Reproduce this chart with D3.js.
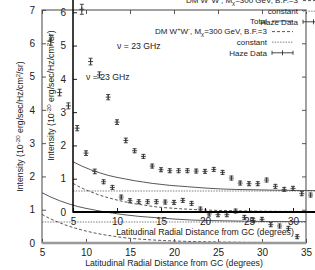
<!DOCTYPE html>
<html>
<head>
<meta charset="utf-8">
<script src="https://cdn.jsdelivr.net/npm/d3@7"></script>
<style>
  html, body { margin: 0; padding: 0; background: #fff; }
  svg { display: block; }
  text { font-family: "Liberation Sans", Arial, Helvetica, sans-serif; fill: #222; }
</style>
</head>
<body>
<svg id="chart" width="315" height="270"></svg>
<script>
// ---------------- data ----------------
const xTicks = [5, 10, 15, 20, 25, 30, 35];
const yTicks = [0, 1, 2, 3, 4, 5, 6, 7];

// Haze data (latitudinal radial distance, intensity, error)
const hazeDegrees = [6, 7, 8, 9, 10, 11, 12, 13, 14, 15, 16, 17, 18, 19, 20, 21, 22, 23, 24, 25, 26, 27, 28, 29, 30, 31, 32, 33, 34];
const hazeValues  = [6.09, 4.52, 4.12, 3.45, 2.70, 2.15, 1.84, 1.67, 1.38, 1.27, 1.24, 1.24, 1.24, 1.23, 1.22, 1.28, 1.19, 1.02, 0.87, 0.85, 0.85, 0.96, 0.77, 0.68, 0.71, 0.55, 0.51, 0.44, 0.19];
const hazeErrors  = [0.15, 0.10, 0.09, 0.08, 0.07, 0.07, 0.06, 0.06, 0.06, 0.06, 0.06, 0.06, 0.06, 0.06, 0.06, 0.06, 0.06, 0.06, 0.06, 0.06, 0.06, 0.06, 0.06, 0.06, 0.06, 0.06, 0.06, 0.06, 0.06];

// model curves
const curveDegrees = [5, 6, 7, 8, 9, 10, 11, 12, 13, 14, 15, 16, 17, 18, 20, 22, 25, 28, 31, 35];
const totalValues  = [1.51, 1.38, 1.27, 1.18, 1.10, 1.04, 0.99, 0.94, 0.90, 0.86, 0.83, 0.80, 0.78, 0.76, 0.72, 0.69, 0.67, 0.655, 0.645, 0.64];
const dmValues     = [0.86, 0.72, 0.61, 0.51, 0.43, 0.36, 0.30, 0.25, 0.21, 0.17, 0.14, 0.12, 0.10, 0.085, 0.06, 0.045, 0.03, 0.02, 0.015, 0.01];
const constantValue = [0.63];

const freqLabel = { x: 10, y: 5, text: "ν = 23 GHz" };

// ---------------- drawing ----------------
const svg = d3.select("#chart");
const W = 264, H = 233;
const x = d3.scaleLinear().domain([5, 35]).range([0, W]);
const y = d3.scaleLinear().domain([0, 7]).range([H, 0]);
const FS = 8.7;
const fmt = d3.format("d");

function drawPanel(ox, oy, frameColor, frameWidth, bottomColor, bottomWidth) {
  const g = svg.append("g").attr("transform", `translate(${ox},${oy})`);

  // curves
  const line = d3.line().x(d => x(d[0])).y(d => y(d[1])).curve(d3.curveMonotoneX);
  g.append("path")
    .datum(curveDegrees.map(d => [d, constantValue[0]]))
    .attr("d", line).attr("fill", "none")
    .attr("stroke", "#aaa").attr("stroke-width", 1.4).attr("stroke-dasharray", "1.5,1.2");
  g.append("path")
    .datum(curveDegrees.map((d, i) => [d, dmValues[i]]))
    .attr("d", line).attr("fill", "none")
    .attr("stroke", "#444").attr("stroke-width", 0.9).attr("stroke-dasharray", "3,2");
  g.append("path")
    .datum(curveDegrees.map((d, i) => [d, totalValues[i]]))
    .attr("d", line).attr("fill", "none")
    .attr("stroke", "#444").attr("stroke-width", 0.9);

  // haze data with error bars
  const pts = g.append("g").attr("stroke", "#333").attr("stroke-width", 0.9);
  hazeDegrees.forEach((d, i) => {
    const px = x(d), py = y(hazeValues[i]);
    const pt = y(hazeValues[i] + hazeErrors[i]), pb = y(hazeValues[i] - hazeErrors[i]);
    pts.append("line").attr("x1", px).attr("x2", px).attr("y1", pt).attr("y2", pb);
    pts.append("line").attr("x1", px - 2).attr("x2", px + 2).attr("y1", pt).attr("y2", pt);
    pts.append("line").attr("x1", px - 2).attr("x2", px + 2).attr("y1", pb).attr("y2", pb);
    pts.append("line").attr("x1", px - 2.5).attr("x2", px + 2.5).attr("y1", py).attr("y2", py);
    pts.append("line").attr("x1", px).attr("x2", px).attr("y1", py - 2.5).attr("y2", py + 2.5);
  });

  // axes (inward ticks, mirrored)
  const ax = g.append("g").attr("font-size", FS);
  const bottom = ax.append("g").attr("transform", `translate(0,${H})`)
    .call(d3.axisBottom(x).tickValues(xTicks).tickFormat(fmt).tickSizeInner(-4).tickSizeOuter(0).tickPadding(5.5));
  const left = ax.append("g")
    .call(d3.axisLeft(y).tickValues(yTicks).tickFormat(fmt).tickSizeInner(-4).tickSizeOuter(0).tickPadding(7));
  const top = ax.append("g")
    .call(d3.axisTop(x).tickValues(xTicks).tickSizeInner(-4).tickSizeOuter(0).tickFormat(""));
  const right = ax.append("g").attr("transform", `translate(${W},0)`)
    .call(d3.axisRight(y).tickValues(yTicks).tickSizeInner(-4).tickSizeOuter(0).tickFormat(""));
  [bottom, left, top, right].forEach(a => {
    a.select(".domain").remove();
    a.selectAll(".tick line").attr("stroke", frameColor).attr("stroke-width", 0.9);
    a.selectAll(".tick text").attr("fill", "#222").attr("font-family", "Liberation Sans, Arial, sans-serif");
  });

  // frame
  g.append("rect").attr("x", 0).attr("y", 0).attr("width", W).attr("height", H)
    .attr("fill", "none").attr("stroke", frameColor).attr("stroke-width", frameWidth);
  g.append("line").attr("x1", 0).attr("x2", W).attr("y1", H).attr("y2", H)
    .attr("stroke", bottomColor).attr("stroke-width", bottomWidth);

  // axis labels
  g.append("text").attr("x", W / 2).attr("y", H + 23).attr("text-anchor", "middle")
    .attr("font-size", FS).text("Latitudinal Radial Distance from GC (degrees)");
  const yl = g.append("text")
    .attr("transform", `translate(-19,${H / 2}) rotate(-90)`)
    .attr("text-anchor", "middle").attr("font-size", FS);
  yl.append("tspan").text("Intensity (10");
  yl.append("tspan").attr("dy", -3.5).attr("font-size", FS * 0.72).text("-20");
  yl.append("tspan").attr("dy", 3.5).text(" erg/sec/Hz/cm");
  yl.append("tspan").attr("dy", -3.5).attr("font-size", FS * 0.72).text("2");
  yl.append("tspan").attr("dy", 3.5).text("/sr)");

  // frequency label
  g.append("text").attr("x", x(freqLabel.x)).attr("y", y(freqLabel.y)).attr("dy", "0.35em")
    .attr("font-size", FS).text(freqLabel.text);

  // legend
  const LF = 8, lx = 225, sx0 = 230, sx1 = 251;
  const rows = [11, 21.6, 32.2, 42.8];
  const leg = g.append("g").attr("font-size", LF);
  // Total
  leg.append("text").attr("x", lx).attr("y", rows[0]).attr("dy", "0.35em").attr("text-anchor", "end").text("Total");
  leg.append("line").attr("x1", sx0).attr("x2", sx1).attr("y1", rows[0]).attr("y2", rows[0])
    .attr("stroke", "#444").attr("stroke-width", 0.9);
  // DM
  const dmt = leg.append("text").attr("x", lx).attr("y", rows[1]).attr("dy", "0.35em").attr("text-anchor", "end");
  dmt.append("tspan").text("DM W");
  dmt.append("tspan").attr("dy", -3).attr("font-size", LF * 0.72).text("+");
  dmt.append("tspan").attr("dy", 3).text("W");
  dmt.append("tspan").attr("dy", -3).attr("font-size", LF * 0.72).text("-");
  dmt.append("tspan").attr("dy", 3).text(", M");
  dmt.append("tspan").attr("dy", 2).attr("font-size", LF * 0.72).text("χ");
  dmt.append("tspan").attr("dy", -2).text("=300 GeV, B.F.=3");
  leg.append("line").attr("x1", sx0).attr("x2", sx1).attr("y1", rows[1]).attr("y2", rows[1])
    .attr("stroke", "#444").attr("stroke-width", 0.9).attr("stroke-dasharray", "3,2");
  // constant
  leg.append("text").attr("x", lx).attr("y", rows[2]).attr("dy", "0.35em").attr("text-anchor", "end").text("constant");
  leg.append("line").attr("x1", sx0).attr("x2", sx1).attr("y1", rows[2]).attr("y2", rows[2])
    .attr("stroke", "#aaa").attr("stroke-width", 1.4).attr("stroke-dasharray", "1.5,1.2");
  // Haze Data
  leg.append("text").attr("x", lx).attr("y", rows[3]).attr("dy", "0.35em").attr("text-anchor", "end").text("Haze Data");
  const hs = leg.append("g").attr("stroke", "#333").attr("stroke-width", 0.9);
  hs.append("line").attr("x1", sx0).attr("x2", sx1).attr("y1", rows[3]).attr("y2", rows[3]);
  hs.append("line").attr("x1", sx0).attr("x2", sx0).attr("y1", rows[3] - 2).attr("y2", rows[3] + 2);
  hs.append("line").attr("x1", sx1).attr("x2", sx1).attr("y1", rows[3] - 2).attr("y2", rows[3] + 2);
  const mx = (sx0 + sx1) / 2;
  hs.append("line").attr("x1", mx).attr("x2", mx).attr("y1", rows[3] - 2.5).attr("y2", rows[3] + 2.5);
}

// outer (background) panel and the overlaid, shifted panel
drawPanel(42, 10, "#444", 1, "#999", 2.5);
drawPanel(73, -21, "#000", 1.5, "#000", 2);
</script>
</body>
</html>
